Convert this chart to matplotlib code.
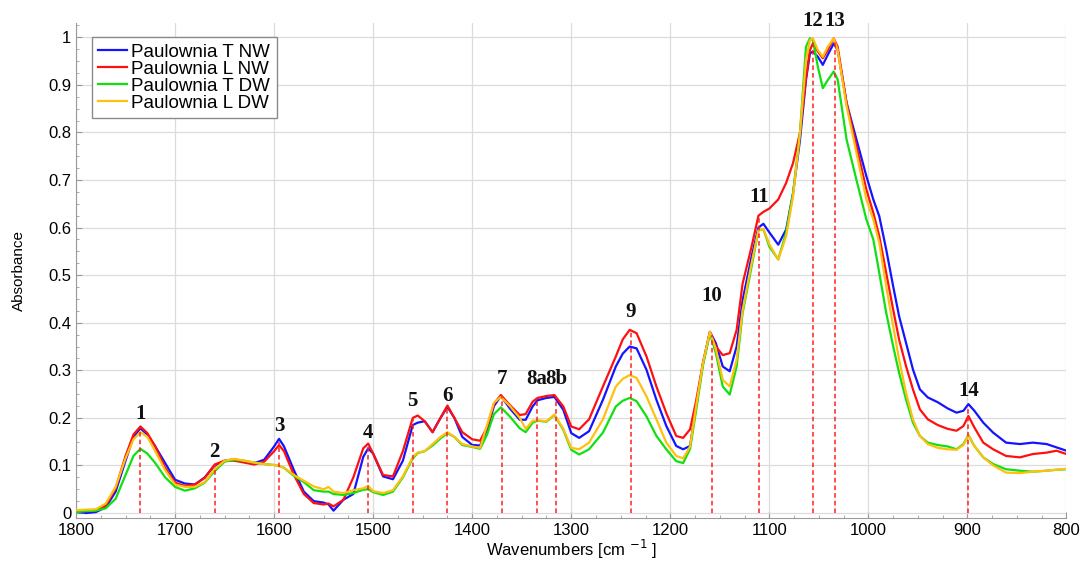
import numpy as np
import matplotlib
matplotlib.use("Agg")
import matplotlib.pyplot as plt
from matplotlib.ticker import MultipleLocator, FuncFormatter

plt.rcParams['font.family'] = ['Liberation Sans', 'DejaVu Sans']

# wavenumbers [cm-1] shared by all four spectra
wn = [1800, 1790, 1780, 1770, 1760, 1750, 1742, 1735, 1728, 1720, 1710, 1700,
      1690, 1680, 1670, 1660, 1650, 1640, 1630, 1620, 1610, 1600, 1595, 1590,
      1580, 1570, 1560, 1550, 1545, 1540, 1530, 1520, 1510, 1505, 1500, 1490,
      1480, 1470, 1460, 1455, 1448, 1440, 1432, 1425, 1418, 1410, 1400, 1392,
      1385, 1378, 1371, 1362, 1352, 1346, 1339, 1334, 1325, 1317, 1308, 1300,
      1292, 1282, 1268, 1255, 1248, 1241, 1234, 1224, 1214, 1204, 1194, 1187, 1180,
      1174, 1167, 1160, 1154, 1147, 1140, 1133, 1127, 1118, 1111, 1106, 1100,
      1091, 1083, 1076, 1069, 1063, 1059, 1056, 1051, 1046, 1041, 1035, 1031,
      1022, 1012, 1002, 995, 989, 982, 975, 969, 962, 955, 948, 940,
      930, 920, 911, 904, 899, 893, 884, 874, 861, 847, 834, 820,
      810, 800]

t_nw = [0.003, 0.000, 0.002, 0.012, 0.045, 0.110, 0.160, 0.178, 0.165, 0.140, 0.105, 0.070,
        0.062, 0.060, 0.075, 0.100, 0.110, 0.113, 0.108, 0.105, 0.112, 0.140, 0.156, 0.140,
        0.090, 0.045, 0.025, 0.022, 0.018, 0.005, 0.028, 0.040, 0.118, 0.136, 0.125, 0.077,
        0.071, 0.110, 0.185, 0.190, 0.193, 0.170, 0.200, 0.223, 0.200, 0.160, 0.143, 0.142,
        0.175, 0.225, 0.246, 0.220, 0.196, 0.196, 0.224, 0.237, 0.242, 0.244, 0.217, 0.168,
        0.158, 0.172, 0.238, 0.308, 0.335, 0.350, 0.346, 0.301, 0.238, 0.183, 0.141, 0.134, 0.141,
        0.224, 0.315, 0.381, 0.357, 0.308, 0.298, 0.350, 0.447, 0.538, 0.600, 0.608, 0.590,
        0.564, 0.596, 0.673, 0.785, 0.910, 0.966, 0.970, 0.959, 0.942, 0.963, 0.987, 0.973,
        0.862, 0.785, 0.708, 0.659, 0.624, 0.554, 0.477, 0.414, 0.358, 0.302, 0.260, 0.243,
        0.233, 0.220, 0.211, 0.215, 0.229, 0.215, 0.190, 0.169, 0.148, 0.145, 0.148, 0.145,
        0.138, 0.131]

l_nw = [0.005, 0.006, 0.006, 0.016, 0.052, 0.120, 0.165, 0.182, 0.168, 0.140, 0.095, 0.064,
        0.057, 0.060, 0.074, 0.102, 0.110, 0.110, 0.106, 0.102, 0.108, 0.130, 0.143, 0.130,
        0.080, 0.040, 0.021, 0.018, 0.020, 0.014, 0.028, 0.075, 0.136, 0.146, 0.125, 0.080,
        0.077, 0.130, 0.200, 0.205, 0.193, 0.170, 0.200, 0.226, 0.200, 0.170, 0.155, 0.152,
        0.180, 0.230, 0.248, 0.227, 0.206, 0.208, 0.234, 0.242, 0.246, 0.248, 0.224, 0.182,
        0.176, 0.197, 0.266, 0.329, 0.365, 0.385, 0.378, 0.329, 0.266, 0.210, 0.162, 0.158, 0.176,
        0.235, 0.315, 0.380, 0.350, 0.332, 0.336, 0.385, 0.482, 0.559, 0.625, 0.633, 0.640,
        0.659, 0.694, 0.736, 0.800, 0.914, 0.973, 0.987, 0.970, 0.956, 0.973, 0.998, 0.980,
        0.862, 0.771, 0.680, 0.631, 0.582, 0.505, 0.428, 0.365, 0.309, 0.260, 0.218, 0.197,
        0.185, 0.177, 0.173, 0.183, 0.204, 0.180, 0.148, 0.134, 0.120, 0.117, 0.124, 0.127,
        0.131, 0.124]

t_dw = [0.002, 0.004, 0.005, 0.010, 0.030, 0.080, 0.120, 0.135, 0.125, 0.105, 0.075, 0.055,
        0.047, 0.052, 0.064, 0.088, 0.108, 0.112, 0.110, 0.106, 0.103, 0.101, 0.099, 0.095,
        0.078, 0.065, 0.048, 0.045, 0.045, 0.040, 0.038, 0.042, 0.049, 0.050, 0.044, 0.038,
        0.045, 0.075, 0.115, 0.126, 0.130, 0.142, 0.157, 0.168, 0.160, 0.143, 0.139, 0.135,
        0.165, 0.208, 0.222, 0.203, 0.178, 0.170, 0.190, 0.194, 0.192, 0.206, 0.175, 0.133,
        0.123, 0.134, 0.169, 0.224, 0.236, 0.242, 0.235, 0.203, 0.162, 0.134, 0.109, 0.105, 0.135,
        0.215, 0.310, 0.378, 0.336, 0.266, 0.249, 0.308, 0.420, 0.517, 0.594, 0.597, 0.560,
        0.533, 0.590, 0.673, 0.800, 0.980, 0.998, 0.994, 0.938, 0.893, 0.910, 0.928, 0.911,
        0.785, 0.700, 0.617, 0.575, 0.505, 0.421, 0.351, 0.295, 0.239, 0.190, 0.162, 0.148,
        0.143, 0.140, 0.134, 0.145, 0.164, 0.141, 0.117, 0.103, 0.092, 0.089, 0.087, 0.089,
        0.091, 0.092]

l_dw = [0.006, 0.007, 0.008, 0.020, 0.055, 0.115, 0.155, 0.170, 0.160, 0.130, 0.090, 0.060,
        0.055, 0.055, 0.065, 0.092, 0.110, 0.114, 0.110, 0.106, 0.103, 0.101, 0.099, 0.095,
        0.080, 0.068, 0.056, 0.050, 0.055, 0.045, 0.042, 0.048, 0.052, 0.057, 0.046, 0.042,
        0.048, 0.077, 0.118, 0.127, 0.130, 0.145, 0.160, 0.170, 0.160, 0.145, 0.140, 0.137,
        0.185, 0.232, 0.244, 0.225, 0.200, 0.177, 0.194, 0.195, 0.193, 0.207, 0.177, 0.137,
        0.134, 0.148, 0.197, 0.266, 0.282, 0.290, 0.284, 0.245, 0.197, 0.148, 0.120, 0.115, 0.140,
        0.224, 0.315, 0.381, 0.345, 0.280, 0.266, 0.322, 0.426, 0.524, 0.594, 0.597, 0.565,
        0.533, 0.582, 0.666, 0.800, 0.952, 0.994, 0.998, 0.973, 0.959, 0.980, 0.998, 0.973,
        0.855, 0.757, 0.659, 0.617, 0.568, 0.477, 0.393, 0.323, 0.253, 0.197, 0.162, 0.145,
        0.137, 0.134, 0.133, 0.143, 0.164, 0.141, 0.117, 0.100, 0.085, 0.084, 0.087, 0.089,
        0.091, 0.093]

series = [("Paulownia T NW", t_nw, "#1414ff"),
          ("Paulownia L NW", l_nw, "#ff1010"),
          ("Paulownia T DW", t_dw, "#10e010"),
          ("Paulownia L DW", l_dw, "#ffc010")]

# assigned bands: label, wavenumber, top of the marker line, label height
peak_names = ["1", "2", "3", "4", "5", "6", "7", "8a", "8b", "9", "10", "11", "12", "13", "14"]
peak_wn = [1735, 1660, 1595, 1505, 1460, 1425, 1370, 1335, 1315, 1240, 1158, 1110, 1056, 1034, 899]
peak_top = [0.178, 0.100, 0.150, 0.140, 0.200, 0.222, 0.245, 0.240, 0.245, 0.380, 0.375, 0.620, 0.990, 0.990, 0.225]
peak_label_y = [0.208, 0.128, 0.183, 0.168, 0.236, 0.246, 0.281, 0.282, 0.282, 0.422, 0.456, 0.664, 1.034, 1.034, 0.257]

fig = plt.figure(figsize=(10.86, 5.61), dpi=100)
ax = fig.add_axes([0.070, 0.077, 0.912, 0.882])

for name, vals, col in series:
    ax.plot(wn, vals, color=col, lw=1.6, label=name, zorder=3,
            solid_joinstyle="round")

for name, w, top, ly in zip(peak_names, peak_wn, peak_top, peak_label_y):
    ax.plot([w, w], [0, top], color="#ff2020", lw=1.1, ls=(0, (3, 2)), zorder=4)
    ax.text(w, ly, name, ha="center", va="center", fontsize=15, fontweight="bold",
            family="Liberation Serif", color="#111111", zorder=5, clip_on=False)

ax.set_xlim(1800, 800)
ax.xaxis.set_major_locator(MultipleLocator(100))
ax.xaxis.set_minor_locator(MultipleLocator(25))
ax.yaxis.set_major_locator(MultipleLocator(0.1))
ax.yaxis.set_minor_locator(MultipleLocator(0.025))
ax.yaxis.set_major_formatter(FuncFormatter(
    lambda v, p: "0" if abs(v) < 1e-9 else ("1" if abs(v - 1) < 1e-9 else f"{v:.1f}")))
ax.set_ylim(-0.01, 1.03)

ax.grid(True, which="major", color="#dcdcdc", lw=0.9)
ax.set_axisbelow(True)
for s in ["top", "right"]:
    ax.spines[s].set_visible(False)
for s in ["left", "bottom"]:
    ax.spines[s].set_color("#9a9a9a")
ax.tick_params(which="both", direction="in", color="#9a9a9a", labelsize=12)
ax.tick_params(which="major", length=4)
ax.tick_params(which="minor", length=2.5)

ax.set_xlabel("Wavenumbers [cm $^{-1}$ ]", fontsize=12, labelpad=0)
ax.set_ylabel("Absorbance", fontsize=11, labelpad=16)

leg = ax.legend(loc="upper left", bbox_to_anchor=(0.016, 0.972), fontsize=13.5,
                frameon=True, fancybox=False, edgecolor="#8a8a8a", framealpha=1,
                handlelength=1.5, handletextpad=0.25, borderpad=0.35, labelspacing=0.0,
                borderaxespad=0)
leg.get_frame().set_linewidth(1.0)

fig.savefig("out.png", dpi=100)
